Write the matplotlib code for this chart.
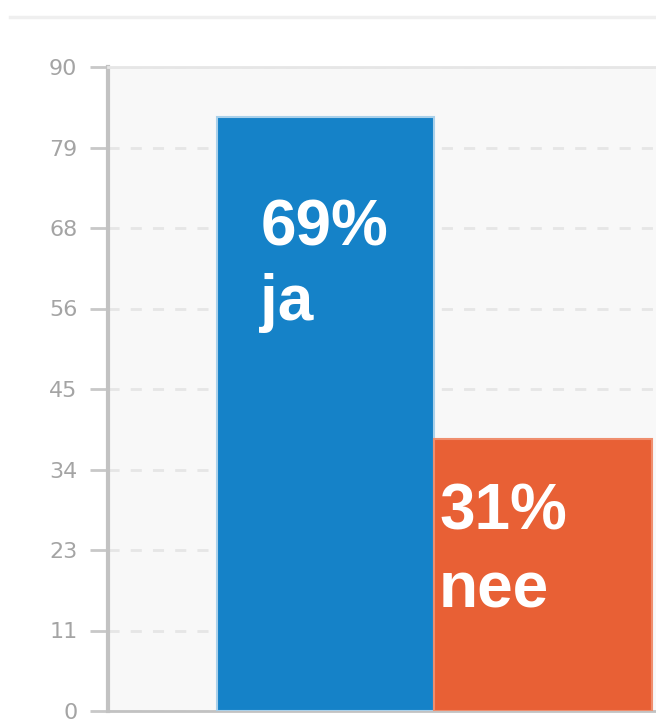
import numpy as np
import matplotlib.pyplot as plt
from matplotlib.lines import Line2D

# data
categories = ["ja", "nee"]
counts = [83, 38]
percent_labels = ["69%", "31%"]
bar_colors = ["#1582c8", "#e86035"]
edge_colors = ["#a9d0ea", "#ef8e6e"]
yticks = np.linspace(0, 90, 9)
ytick_labels = ["0", "11", "23", "34", "45", "56", "68", "79", "90"]

plt.rcParams['font.family'] = ['Liberation Sans', 'DejaVu Sans']

fig = plt.figure(figsize=(6.56, 7.2), dpi=100)
ax = fig.add_axes([108/656, 9/720, 583/656, 644/720])
ax.set_facecolor("#f8f8f8")

x = np.arange(len(categories))
for i in range(len(categories)):
    ax.bar(x[i], counts[i], width=1.0, align="edge", color=bar_colors[i],
           edgecolor=edge_colors[i], linewidth=1.5, zorder=3)

# labels inside the bars: percentage line and category line
label_dx = [0.2, 0.022]
pct_dy = [17.9, 12.7]
cat_dy = [28.4, 23.5]
for i in range(len(categories)):
    ax.text(x[i] + label_dx[i], counts[i] - pct_dy[i], percent_labels[i],
            color="white", fontsize=46, fontweight="bold",
            ha="left", va="baseline", zorder=4)
    ax.text(x[i] + label_dx[i], counts[i] - cat_dy[i], categories[i],
            color="white", fontsize=46, fontweight="bold",
            ha="left", va="baseline", zorder=4)

ax.set_xlim(-0.5, 2.18)
ax.set_ylim(0, 90)
ax.set_xticks([])
ax.set_yticks(yticks)
ax.set_yticklabels(ytick_labels, family="DejaVu Sans")
ax.tick_params(axis="y", length=13, width=2, color="#c8c8c8",
               labelcolor="#a4a4a4", labelsize=16, pad=9)
ax.yaxis.grid(True, linestyle=(0, (4, 4)), color="#e6e6e6", linewidth=2, zorder=1)

ax.spines["left"].set_color("#c2c2c2")
ax.spines["left"].set_linewidth(3)
ax.spines["bottom"].set_color("#c2c2c2")
ax.spines["bottom"].set_linewidth(2)
ax.spines["top"].set_color("#e6e6e6")
ax.spines["top"].set_linewidth(2)
ax.spines["right"].set_visible(False)

# thin separator line at the top of the page
fig.add_artist(Line2D([10/656, 1.0], [1 - 17/720, 1 - 17/720],
                      color="#efefef", linewidth=2.5, transform=fig.transFigure))

plt.savefig("out.png", dpi=100)
plt.close(fig)
